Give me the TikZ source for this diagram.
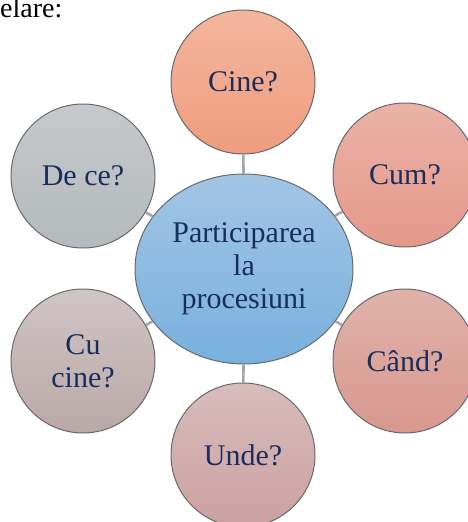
\documentclass[tikz,border=0pt]{standalone}
\usepackage{fontspec}
\setmainfont{Liberation Serif}
\usetikzlibrary{shapes.geometric}
\definecolor{txt}{RGB}{24,46,92}
\definecolor{rim}{RGB}{105,105,108}
\definecolor{link}{RGB}{163,166,170}
\definecolor{blue1}{RGB}{162,197,229}
\definecolor{blue2}{RGB}{120,176,222}
\tikzset{
  bubble/.style={circle,draw=rim,line width=1pt,minimum size=144pt,inner sep=0pt,
    align=center,text=txt,font=\fontsize{30}{33}\selectfont},
  hub/.style={ellipse,draw=rim,line width=1pt,minimum width=218pt,minimum height=190pt,
    inner sep=0pt,align=center,text=txt,font=\fontsize{30}{33}\selectfont,
    top color=blue1,bottom color=blue2},
  linkline/.style={draw=link,line width=2.6pt}
}
\begin{document}
\begin{tikzpicture}[x=1pt,y=-1pt]
\useasboundingbox (0,0) rectangle (467,522);
\node (hub) [hub] at (244,269) {Participarea\\la\\procesiuni};
\node (cine) [bubble,top color={rgb,255:red,243;green,182;blue,157},bottom color={rgb,255:red,240;green,156;blue,126}] at (243,82) {Cine?};
\node (cum) [bubble,top color={rgb,255:red,234;green,178;blue,166},bottom color={rgb,255:red,228;green,152;blue,138}] at (405,175) {Cum?};
\node (cand) [bubble,top color={rgb,255:red,223;green,178;blue,170},bottom color={rgb,255:red,216;green,152;blue,142}] at (405,361) {Când?};
\node (unde) [bubble,top color={rgb,255:red,216;green,188;blue,188},bottom color={rgb,255:red,203;green,160;blue,160}] at (243,455) {Unde?};
\node (cucine) [bubble,top color={rgb,255:red,208;green,196;blue,196},bottom color={rgb,255:red,186;green,168;blue,168}] at (83,361) {Cu\\cine?};
\node (dece) [bubble,top color={rgb,255:red,198;green,201;blue,204},bottom color={rgb,255:red,180;green,185;blue,188}] at (83,176) {De ce?};
\foreach \n in {cine,cum,cand,unde,cucine,dece}{
  \path[linkline] (hub) -- (\n);
}
\node[anchor=base west,inner sep=0pt,font=\fontsize{28}{30}\selectfont] (lbl) at (0,17) {elare:};
\end{tikzpicture}
\end{document}
